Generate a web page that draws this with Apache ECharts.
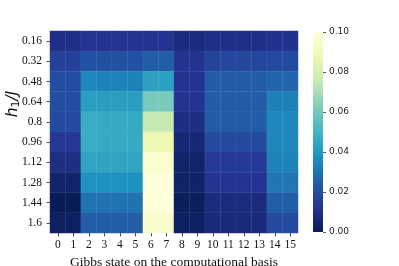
<!DOCTYPE html>
<html><head><meta charset="utf-8">
<script src="https://cdn.jsdelivr.net/npm/echarts@6/dist/echarts.min.js"></script>
<style>html,body{margin:0;padding:0;background:#fff}#c{width:399px;height:266px}</style>
</head><body><div id="c"></div>
<script>
const xLabels = ['0','1','2','3','4','5','6','7','8','9','10','11','12','13','14','15'];
const yLabels = ['0.16','0.32','0.48','0.64','0.8','0.96','1.12','1.28','1.44','1.6'];
const colorTicks = [0, 0.02, 0.04, 0.06, 0.08, 0.10];
const row016 = [0.010,0.010,0.012,0.012,0.012,0.012,0.012,0.012,0.008,0.008,0.010,0.010,0.010,0.010,0.011,0.011];
const row032 = [0.016,0.016,0.021,0.021,0.021,0.021,0.025,0.025,0.012,0.012,0.017,0.018,0.018,0.018,0.019,0.019];
const row048 = [0.020,0.020,0.035,0.034,0.034,0.034,0.043,0.043,0.012,0.012,0.024,0.024,0.024,0.024,0.027,0.027];
const row064 = [0.020,0.020,0.042,0.042,0.042,0.042,0.061,0.061,0.012,0.012,0.024,0.024,0.024,0.024,0.033,0.033];
const row080 = [0.019,0.019,0.047,0.046,0.046,0.046,0.075,0.075,0.009,0.009,0.024,0.024,0.024,0.024,0.035,0.035];
const row096 = [0.013,0.013,0.047,0.046,0.046,0.046,0.088,0.088,0.006,0.006,0.019,0.019,0.019,0.019,0.035,0.035];
const row112 = [0.009,0.009,0.044,0.044,0.044,0.044,0.097,0.097,0.004,0.004,0.014,0.014,0.014,0.014,0.034,0.034];
const row128 = [0.004,0.004,0.038,0.038,0.038,0.038,0.100,0.100,0.003,0.003,0.012,0.012,0.012,0.012,0.031,0.031];
const row144 = [0.000,0.000,0.030,0.030,0.030,0.030,0.100,0.100,0.001,0.001,0.008,0.008,0.008,0.008,0.025,0.025];
const row160 = [0.002,0.002,0.025,0.025,0.025,0.025,0.096,0.096,0.002,0.002,0.007,0.007,0.007,0.007,0.019,0.019];
const rows = [row016,row032,row048,row064,row080,row096,row112,row128,row144,row160];
const cmap = ['#081d58','#253494','#225ea8','#1d91c0','#41b6c4','#7fcdbb','#c7e9b4','#edf8b1','#ffffd9'];

const data = [];
rows.forEach((r, yi) => r.forEach((v, xi) => data.push([xi, yi, v])));

const chart = echarts.init(document.getElementById('c'), null, {renderer:'canvas'});
const serif = '"Liberation Serif","Times New Roman",serif';
chart.setOption({
  animation: false,
  grid: [
    {left: 50, right: 101, top: 31, bottom: 33, outerBoundsMode:'none', containLabel:false},
    {left: 313, width: 10, top: 32, height: 200, outerBoundsMode:'none', containLabel:false}
  ],
  xAxis: [
    {type:'category', gridIndex:0, data:xLabels,
     axisLine:{show:false}, splitLine:{show:false},
     axisTick:{show:true, alignWithLabel:true, length:3.5, lineStyle:{color:'#222', width:0.8}},
     axisLabel:{fontFamily:serif, fontSize:11.5, color:'#111', margin:6},
     name:'Gibbs state on the computational basis', nameLocation:'middle', nameGap:20,
     nameTextStyle:{fontFamily:serif, fontSize:13.5, color:'#111'}},
    {type:'category', gridIndex:1, data:['c'], show:false}
  ],
  yAxis: [
    {type:'category', gridIndex:0, data:yLabels, inverse:true,
     axisLine:{show:false}, splitLine:{show:false},
     axisTick:{show:true, alignWithLabel:true, length:3.5, lineStyle:{color:'#222', width:0.8}},
     axisLabel:{fontFamily:serif, fontSize:11.5, color:'#111', margin:8}},
    {type:'value', gridIndex:1, min:0, max:0.1, interval:0.02, position:'right',
     axisLine:{show:false}, splitLine:{show:false},
     axisTick:{show:true, length:3, lineStyle:{color:'#333', width:0.8}},
     axisLabel:{fontFamily:'"DejaVu Sans",sans-serif', fontSize:9, color:'#222', margin:6,
       formatter: v => v.toFixed(2)}}
  ],
  visualMap: {type:'continuous', show:false, min:0, max:0.1, seriesIndex:0, inRange:{color:cmap}},
  series: [
    {type:'heatmap', xAxisIndex:0, yAxisIndex:0, data:data,
     itemStyle:{borderColor:'rgba(255,255,255,0.10)', borderWidth:0.5}, silent:true},
    {type:'bar', xAxisIndex:1, yAxisIndex:1, data:[0.1], barWidth:'100%', silent:true,
     itemStyle:{color: new echarts.graphic.LinearGradient(0,1,0,0,
       cmap.map((c,i)=>({offset:i/(cmap.length-1), color:c})))}}
  ],
  graphic: [{
    type:'text', x:13, y:104, rotation:Math.PI/2,
    style:{text:'{a|h}{b|1}{a|/J}', align:'center', verticalAlign:'middle',
      rich:{a:{fontFamily:'"DejaVu Sans",sans-serif', fontStyle:'italic', fontSize:15.5, fill:'#111'},
            b:{fontFamily:'"DejaVu Sans",sans-serif', fontSize:11, fill:'#111', padding:[7,0,0,0]}}}
  }]
});
</script></body></html>
